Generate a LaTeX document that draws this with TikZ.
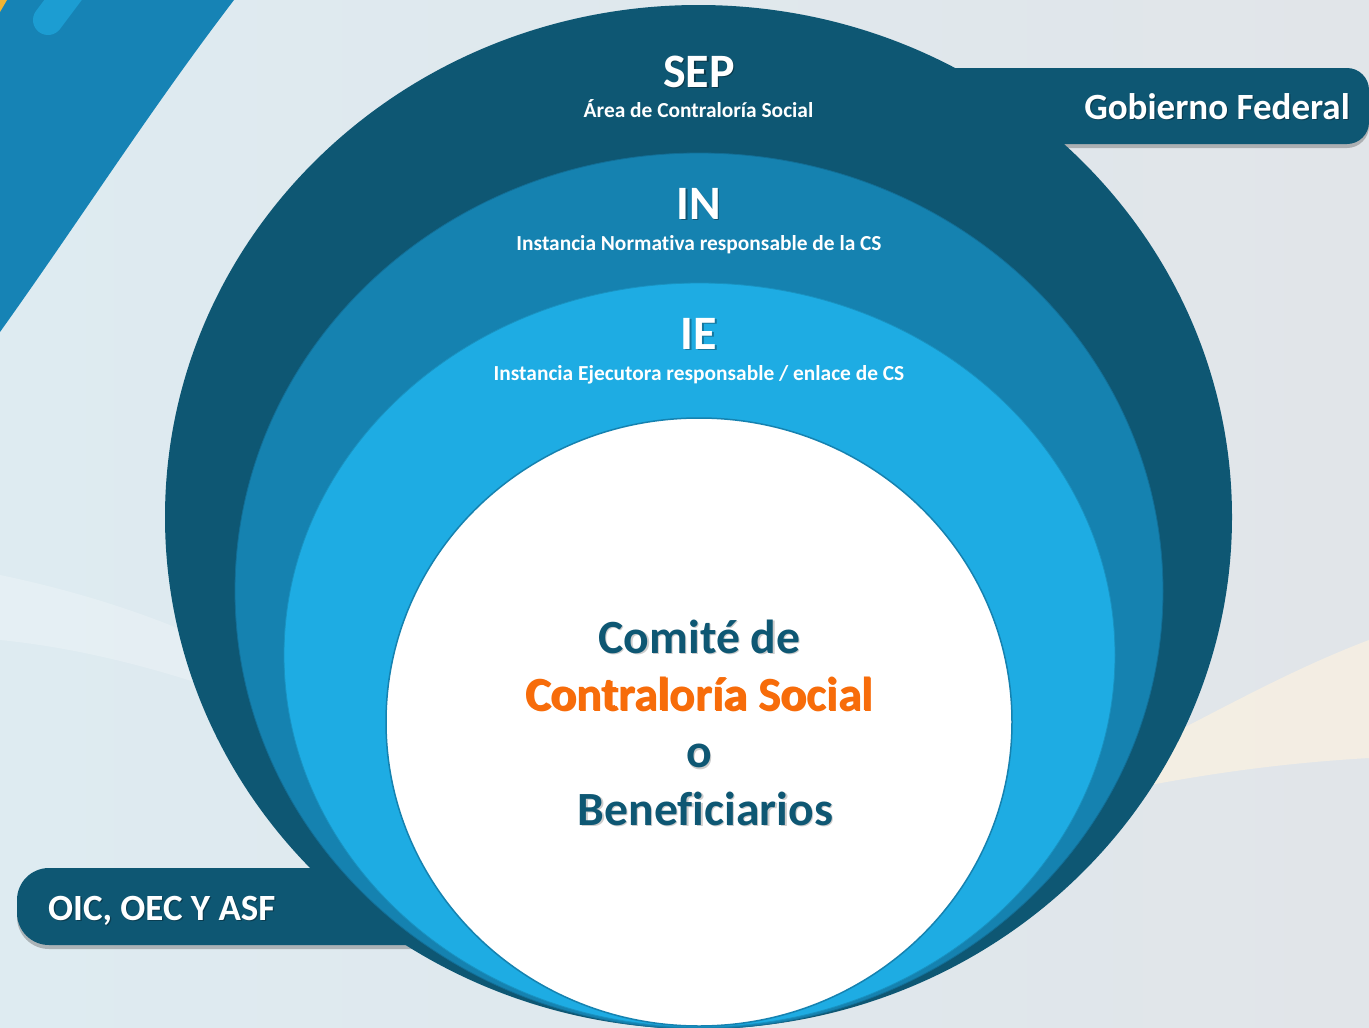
\documentclass[tikz,border=0pt]{standalone}
\usepackage{fontspec}
\setmainfont{Carlito}[Ligatures=NoCommon]
\usetikzlibrary{shadows}
\definecolor{navy}{HTML}{0E5773}
\definecolor{midblue}{HTML}{1582B0}
\definecolor{lightblue}{HTML}{1EACE3}
\definecolor{orangecs}{HTML}{F76C0A}
\definecolor{bgleft}{HTML}{DEEBF1}
\definecolor{bgright}{HTML}{E1E5E9}
\definecolor{bandblue}{HTML}{1683B5}
\definecolor{barblue}{HTML}{1C9DD2}
\definecolor{cornergold}{HTML}{F0B432}
\definecolor{warm}{HTML}{F8F0E2}
\newcommand{\shtext}[2]{\makebox[0pt][l]{\kern1.3pt\raisebox{-1.3pt}{\color{#1}#2}}#2}
\tikzset{
  tabshape/.style={fill=navy, drop shadow={shadow xshift=0pt, shadow yshift=-4pt, opacity=0.35, fill=black!70}},
  bigtitle/.style={text=white, font=\fontsize{48}{50}\selectfont\bfseries, anchor=base, inner sep=0pt},
  subtitle/.style={text=white, font=\fontsize{21.4}{23}\selectfont\bfseries, anchor=base, inner sep=0pt},
  tabtext/.style={text=white, font=\fontsize{37}{39}\selectfont\bfseries, anchor=base, inner sep=0pt},
}
\begin{document}
\begin{tikzpicture}[x=1pt,y=-1pt]
\useasboundingbox (0,0) rectangle (1369,1028);
% background
\shade[left color=bgleft, right color=bgright] (0,0) rectangle (1369,1028);
\fill[white, opacity=0.22] (0,575) .. controls (120,600) and (220,640) .. (300,690) -- (300,720) .. controls (200,680) and (100,650) .. (0,640) -- cycle;
\fill[warm, opacity=0.8] (1150,785) .. controls (1230,770) and (1300,762) .. (1369,758) -- (1369,640) .. controls (1290,670) and (1220,710) .. (1150,745) -- cycle;
% top-left band
\fill[bandblue] (0,0) -- (234,0) .. controls (150,110) and (80,220) .. (0,332) -- cycle;
\draw[barblue, line width=30pt, line cap=round] (48,20) -- (72,-12);
\fill[cornergold] (0,0) -- (7,0) -- (0,12) -- cycle;
% tabs
\path[tabshape, rounded corners=22pt] (800,68) rectangle (1369,144);
\path[tabshape, rounded corners=32pt] (17,868) rectangle (600,945);
% nested shapes
\fill[navy] (698.5,517) ellipse [x radius=533.5, y radius=512];
\filldraw[fill=midblue, draw=midblue!85!black, line width=0.8pt] (699,591) ellipse [x radius=464, y radius=438];
\filldraw[fill=lightblue, draw=lightblue!85!black, line width=0.8pt] (699.5,655) ellipse [x radius=415.5, y radius=372];
\filldraw[fill=white, draw=midblue, line width=1.5pt] (699,722) ellipse [x radius=313, y radius=304];
% texts
\node[bigtitle] (sep) at (699,87) {\shtext{navy!65!black}{SEP}};
\node[subtitle] (sepsub) at (698.5,117) {Área de Contraloría Social};
\node[bigtitle] (in) at (699,219) {\shtext{midblue!65!black}{IN}};
\node[subtitle] (insub) at (699,250) {Instancia Normativa responsable de la CS};
\node[bigtitle] (ie) at (699,349) {\shtext{lightblue!70!black}{IE}};
\node[subtitle] (iesub) at (699,380) {Instancia Ejecutora responsable / enlace de CS};
\node[tabtext, anchor=base east] (gob) at (1350,119) {\shtext{navy!70!black}{Gobierno Federal}};
\node[tabtext, anchor=base west] (oic) at (48,920) {\shtext{navy!70!black}{OIC, OEC Y ASF}};
\node[font=\fontsize{47.7}{57.3}\selectfont\bfseries, text=navy, align=center, anchor=base, inner sep=0pt] (comite) at (699.5,825)
  {\shtext{black!20}{Comité de}\\ \shtext{black!20}{\textcolor{orangecs}{Contraloría Social}}\\ \shtext{black!20}{o}\\ \hspace*{0.25em}\shtext{black!20}{Beneficiarios}};
\end{tikzpicture}
\end{document}
